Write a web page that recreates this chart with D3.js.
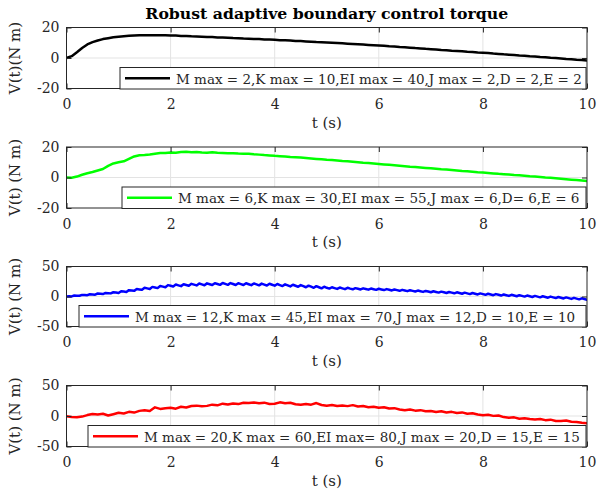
<!DOCTYPE html>
<html>
<head>
<meta charset="utf-8">
<script src="https://cdn.jsdelivr.net/npm/d3@7"></script>
<style>
  html, body { margin: 0; padding: 0; background: #ffffff; }
  svg { display: block; }
</style>
</head>
<body>
<svg id="fig" width="597" height="493"></svg>
<script>
// ---- chart data -------------------------------------------------------
const titleText = "Robust adaptive boundary control torque";
const xLabel = "t (s)";
const xTicks = [0, 2, 4, 6, 8, 10];
const yTicksSmall = [-20, 0, 20];
const yTicksLarge = [-50, 0, 50];
const yLabels = ["V(t)(N m)", "V(t) (N m)", "V(t) (N m)", "V(t) (N m)"];
const legendLabels = [
  "M max = 2,K max = 10,EI max = 40,J max = 2,D = 2,E = 2",
  "M max = 6,K max = 30,EI max = 55,J max = 6,D= 6,E = 6",
  "M max = 12,K max = 45,EI max = 70,J max = 12,D = 10,E = 10",
  "M max = 20,K max = 60,EI max= 80,J max = 20,D = 15,E = 15"
];

// torque samples, case 1 (dt = 0.1 s)
const torqueCase1 = [
  0.0, 1.2, 3.8, 6.6, 8.9, 10.4, 11.5, 12.4, 13.0, 13.6,
  14.0, 14.3, 14.6, 14.8, 14.9, 15.0, 15.0, 15.0, 14.9, 14.9,
  14.8, 14.7, 14.5, 14.4, 14.2, 14.1, 14.0, 13.8, 13.7, 13.5,
  13.4, 13.3, 13.1, 13.0, 12.8, 12.7, 12.5, 12.4, 12.2, 12.1,
  11.9, 11.7, 11.6, 11.4, 11.2, 11.1, 10.9, 10.7, 10.5, 10.4,
  10.2, 10.0, 9.8, 9.6, 9.4, 9.2, 9.0, 8.8, 8.6, 8.4,
  8.2, 8.0, 7.7, 7.5, 7.2, 7.0, 6.8, 6.5, 6.3, 6.0,
  5.8, 5.6, 5.3, 5.1, 4.8, 4.6, 4.4, 4.1, 3.9, 3.6,
  3.4, 3.2, 2.9, 2.7, 2.4, 2.2, 2.0, 1.7, 1.5, 1.2,
  1.0, 0.7, 0.5, 0.2, 0.0, -0.3, -0.6, -0.8, -1.1, -1.3,
  -1.6
];

// torque samples, case 2 (dt = 0.1 s)
const torqueCase2 = [
  0.0, -0.2, 0.6, 1.8, 2.8, 3.6, 4.6, 5.6, 7.6, 9.2,
  10.0, 10.6, 12.2, 13.8, 14.6, 14.8, 15.1, 15.6, 16.1, 16.0,
  16.4, 16.3, 16.7, 16.9, 16.6, 16.7, 16.4, 16.3, 16.6, 16.2,
  16.1, 15.9, 15.9, 15.7, 15.6, 15.6, 15.2, 15.0, 14.7, 14.5,
  14.2, 14.0, 13.8, 13.5, 13.3, 13.1, 12.8, 12.5, 12.2, 11.9,
  11.6, 11.4, 11.1, 10.8, 10.6, 10.3, 10.0, 9.7, 9.5, 9.2,
  8.9, 8.6, 8.3, 8.0, 7.7, 7.4, 7.1, 6.9, 6.6, 6.3,
  6.0, 5.7, 5.4, 5.2, 4.9, 4.6, 4.3, 4.1, 3.8, 3.5,
  3.3, 3.0, 2.7, 2.4, 2.2, 1.9, 1.6, 1.4, 1.1, 0.8,
  0.6, 0.3, 0.0, -0.2, -0.5, -0.8, -1.1, -1.4, -1.7, -2.0,
  -2.3
];

// torque samples, case 3 (dt = 0.05 s)
const torqueCase3 = [
  0.0, 0.3, 0.1, 1.6, 1.4, 1.2, 2.7, 2.45, 2.2, 3.8,
  3.5, 3.0, 5.0, 4.55, 4.1, 6.0, 5.6, 5.2, 7.1, 6.65,
  5.8, 8.8, 8.2, 7.6, 10.6, 10.0, 9.4, 12.4, 11.8, 11.2,
  14.5, 13.5, 12.5, 16.0, 15.0, 14.0, 17.5, 16.5, 15.5, 19.0,
  18.0, 16.7, 19.9, 18.6, 17.3, 20.5, 19.2, 17.9, 21.1, 19.8,
  18.5, 21.6, 20.2, 18.8, 21.9, 20.5, 19.1, 22.2, 20.8, 19.4,
  22.5, 20.95, 19.4, 22.35, 20.8, 19.25, 22.2, 20.65, 19.1, 22.05,
  20.5, 18.9, 21.8, 20.2, 18.6, 21.5, 19.9, 18.3, 21.2, 19.6,
  18.0, 20.8, 19.1, 17.4, 20.2, 18.5, 16.8, 19.6, 17.9, 16.2,
  19.0, 17.2, 15.4, 18.1, 16.3, 14.5, 17.2, 15.4, 13.6, 16.3,
  14.5, 13.15, 15.4, 14.05, 12.7, 14.95, 13.6, 12.25, 14.5, 13.15,
  12.0, 13.9, 12.8, 11.7, 13.6, 12.5, 11.4, 13.3, 12.2, 11.1,
  12.9, 11.8, 10.7, 12.3, 11.2, 10.1, 11.7, 10.6, 9.5, 11.1,
  10.0, 8.9, 10.5, 9.4, 8.3, 9.9, 8.8, 7.7, 9.3, 8.2,
  7.1, 8.7, 7.6, 6.5, 8.1, 7.0, 5.9, 7.5, 6.4, 5.3,
  7.0, 5.8, 4.6, 6.4, 5.2, 4.0, 5.8, 4.6, 3.4, 5.2,
  4.0, 2.8, 4.6, 3.4, 2.2, 4.0, 2.8, 1.6, 3.4, 2.2,
  1.0, 2.8, 1.6, 0.4, 2.2, 1.0, -0.2, 1.6, 0.4, -0.8,
  1.0, -0.2, -1.4, 0.4, -0.8, -2.0, -0.2, -1.4, -2.6, -0.8,
  -2.0, -3.25, -1.5, -2.75, -4.0, -2.25, -3.5, -4.75, -3.0, -4.25,
  -5.5
];

// torque samples, case 4 (dt = 0.1 s)
const torqueCase4 = [
  -0.5, -1.5, -2.2, -1.0, 1.5, 3.2, 2.4, 3.6, 0.8, 3.0,
  5.4, 4.2, 6.8, 5.6, 8.4, 9.6, 8.2, 14.2, 11.6, 12.8,
  13.4, 12.0, 15.2, 13.9, 16.4, 17.0, 15.8, 16.6, 18.6, 17.5,
  20.2, 18.8, 20.6, 19.5, 21.8, 21.2, 22.3, 20.8, 21.9, 19.6,
  20.0, 22.4, 20.9, 21.6, 19.2, 18.3, 19.8, 18.6, 21.2, 18.0,
  16.8, 17.9, 16.4, 17.3, 16.2, 17.8, 15.6, 16.4, 14.5, 15.2,
  13.6, 14.3, 12.2, 12.9, 10.8, 9.4, 10.6, 8.8, 9.6, 7.8,
  8.2, 6.6, 7.8, 5.6, 6.8, 5.0, 5.9, 3.8, 4.6, 2.4,
  1.4, 2.2, 0.2, 0.8, -1.8, -3.0, -2.2, -4.4, -3.6, -5.0,
  -5.6, -4.8, -6.8, -6.0, -8.2, -8.0, -7.4, -9.4, -9.8, -11.2,
  -11.8
];

const sampleSteps = [0.1, 0.1, 0.05, 0.1];
const lineColors = ["#000000", "#00ff00", "#0000ff", "#ff0000"];
const yDomains = [[-20, 20], [-20, 20], [-50, 50], [-50, 50]];

// ---- layout -----------------------------------------------------------
const W = 597, H = 493;
const plotLeft = 66.5, plotRight = 587;
const panelTops = [27.5, 147, 266.5, 385.5];
const panelHeights = [61, 61, 60, 61];
const legendLefts = [120, 122, 79, 88];
const legendRight = 586;
const serif = "'DejaVu Serif', 'Liberation Serif', serif";
const axisColor = "#262626";

const svg = d3.select("#fig");
svg.append("rect").attr("width", W).attr("height", H).attr("fill", "#ffffff");

const x = d3.scaleLinear().domain([0, 10]).range([plotLeft, plotRight]);

svg.append("text")
  .attr("x", (plotLeft + plotRight) / 2)
  .attr("y", 19)
  .attr("text-anchor", "middle")
  .attr("font-family", serif)
  .attr("font-weight", "bold")
  .attr("font-size", 15.7)
  .attr("fill", "#000000")
  .text(titleText);

const series = [torqueCase1, torqueCase2, torqueCase3, torqueCase4];

series.forEach((vals, k) => {
  const top = panelTops[k], bottom = top + panelHeights[k];
  const y = d3.scaleLinear().domain(yDomains[k]).range([bottom, top]);
  const yTicks = k < 2 ? yTicksSmall : yTicksLarge;
  const g = svg.append("g");

  // grid
  const grid = g.append("g").attr("stroke", "#e3e3e3").attr("stroke-width", 1);
  xTicks.slice(1, -1).forEach(v => {
    grid.append("line").attr("x1", x(v)).attr("x2", x(v)).attr("y1", top).attr("y2", bottom);
  });
  yTicks.slice(1, -1).forEach(v => {
    grid.append("line").attr("x1", plotLeft).attr("x2", plotRight).attr("y1", y(v)).attr("y2", y(v));
  });

  // clip region for the data line
  const clipId = "clip" + k;
  svg.append("clipPath").attr("id", clipId)
    .append("rect").attr("x", plotLeft).attr("y", top)
    .attr("width", plotRight - plotLeft).attr("height", bottom - top);

  const dt = sampleSteps[k];
  const pts = vals.map((v, i) => [i * dt, v]);
  const line = d3.line().x(d => x(d[0])).y(d => y(d[1]));
  g.append("path")
    .attr("clip-path", `url(#${clipId})`)
    .attr("d", line(pts))
    .attr("fill", "none")
    .attr("stroke", lineColors[k])
    .attr("stroke-width", 2.5)
    .attr("stroke-linejoin", "round")
    .attr("stroke-linecap", "round");

  // axes (ticks pointing inward)
  const styleAxis = sel => {
    sel.select(".domain").remove();
    sel.selectAll(".tick line").attr("stroke", axisColor);
    sel.selectAll("text")
      .attr("font-family", serif)
      .attr("font-size", 14)
      .attr("fill", axisColor);
  };
  g.append("g").attr("transform", `translate(0,${bottom})`)
    .call(d3.axisBottom(x).tickValues(xTicks).tickSize(-5).tickPadding(11).tickFormat(d3.format("d")))
    .call(styleAxis);
  g.append("g").attr("transform", `translate(0,${top})`)
    .call(d3.axisTop(x).tickValues(xTicks).tickSize(-5).tickFormat(""))
    .call(styleAxis);
  g.append("g").attr("transform", `translate(${plotLeft},0)`)
    .call(d3.axisLeft(y).tickValues(yTicks).tickSize(-5).tickPadding(7)
      .tickFormat(d => d < 0 ? "-" + Math.abs(d) : String(d)))
    .call(styleAxis);
  g.append("g").attr("transform", `translate(${plotRight},0)`)
    .call(d3.axisRight(y).tickValues(yTicks).tickSize(-5).tickFormat(""))
    .call(styleAxis);

  // frame
  g.append("rect")
    .attr("x", plotLeft).attr("y", top)
    .attr("width", plotRight - plotLeft).attr("height", bottom - top)
    .attr("fill", "none").attr("stroke", axisColor).attr("stroke-width", 1);

  // axis labels
  g.append("text")
    .attr("x", (plotLeft + plotRight) / 2)
    .attr("y", bottom + 39)
    .attr("text-anchor", "middle")
    .attr("font-family", serif).attr("font-size", 15).attr("fill", axisColor)
    .text(xLabel);
  g.append("text")
    .attr("transform", `translate(20,${(top + bottom) / 2}) rotate(-90)`)
    .attr("text-anchor", "middle")
    .attr("font-family", serif).attr("font-size", 15).attr("fill", axisColor)
    .text(yLabels[k]);

  // legend
  const lx = legendLefts[k];
  const lb = bottom + 0.5, lt = bottom - 21;
  const lg = g.append("g");
  lg.append("rect")
    .attr("x", lx).attr("y", lt)
    .attr("width", legendRight - lx).attr("height", lb - lt)
    .attr("fill", "#ffffff").attr("stroke", axisColor).attr("stroke-width", 1);
  lg.append("line")
    .attr("x1", lx + 5).attr("x2", lx + 50)
    .attr("y1", (lt + lb) / 2).attr("y2", (lt + lb) / 2)
    .attr("stroke", lineColors[k]).attr("stroke-width", 2.5);
  lg.append("text")
    .attr("x", lx + 56).attr("y", lb - 5.5)
    .attr("font-family", serif).attr("font-size", 13.5).attr("fill", axisColor)
    .text(legendLabels[k]);
});
</script>
</body>
</html>
